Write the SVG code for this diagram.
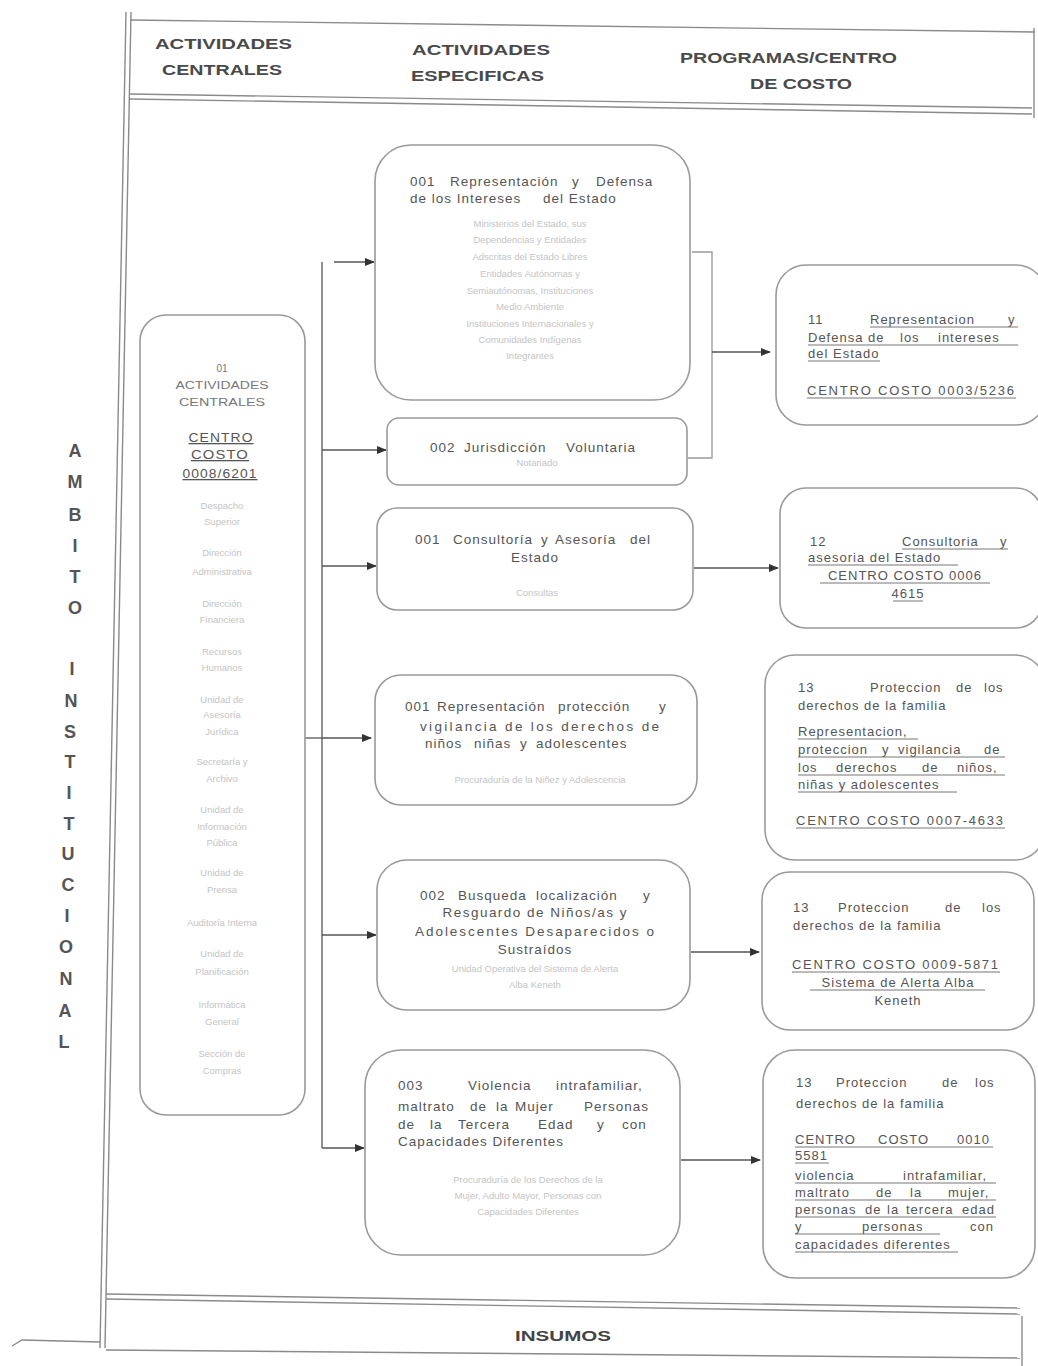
<svg xmlns="http://www.w3.org/2000/svg" width="1038" height="1366" viewBox="0 0 1038 1366">
<style>
.bg{fill:#ffffff}
.frame{fill:none;stroke:#8a8a8a;stroke-width:1.4}
.box{fill:#ffffff;stroke:#9a9a9a;stroke-width:1.6}
.hdr{font-family:"Liberation Sans",Arial,sans-serif;font-weight:bold;font-size:15px;fill:#4a4a4a}
.m{font-family:"Liberation Sans",Arial,sans-serif;font-size:13.5px;letter-spacing:1px;fill:#555}
.r{font-family:"Liberation Sans",Arial,sans-serif;font-size:13px;letter-spacing:1px;fill:#555}
.s{font-family:"Liberation Sans",Arial,sans-serif;font-size:10px;fill:#777}
.f{font-family:"Liberation Sans",Arial,sans-serif;font-size:9.5px;fill:#c4c4c4}
.u{text-decoration:underline}
.ul{stroke:#666;stroke-width:0.9;fill:none}
.side{font-family:"Liberation Sans",Arial,sans-serif;font-weight:bold;font-size:18px;fill:#555}
.ins{font-family:"Liberation Sans",Arial,sans-serif;font-weight:bold;font-size:15px;fill:#444}
.c{text-anchor:middle}
.e{text-anchor:end}
.conn{fill:none;stroke:#555;stroke-width:1.3}
</style>
<defs>
<marker id="ah" markerWidth="10" markerHeight="8" refX="9" refY="4" orient="auto" markerUnits="userSpaceOnUse">
<path d="M0,0 L10,4 L0,8 Z" fill="#333"/>
</marker>
</defs>
<rect class="bg" x="0" y="0" width="1038" height="1366"/>

<g id="frame">
<path class="frame" d="M126,12 L100,1348"/>
<path class="frame" d="M131,12 L105,1348"/>
<path class="frame" d="M130,20 L1035,32"/>
<path class="frame" d="M130,94 L1032,108"/>
<path class="frame" d="M130,99 L1032,114"/>
<path class="frame" d="M1034,28 L1034,118"/>
<path class="frame" d="M106,1294 L1020,1308"/>
<path class="frame" d="M106,1299 L1020,1314"/>
<path class="frame" d="M106,1350 L1020,1358"/>
<path class="frame" d="M1022,1316 L1022,1366"/>
<path class="frame" d="M12,1346 L22,1340 L100,1342"/>
</g>

<g id="header">
<text class="hdr" x="155" y="49" textLength="137" lengthAdjust="spacingAndGlyphs">ACTIVIDADES</text>
<text class="hdr" x="162" y="75" textLength="120" lengthAdjust="spacingAndGlyphs">CENTRALES</text>
<text class="hdr" x="412" y="55" textLength="138" lengthAdjust="spacingAndGlyphs">ACTIVIDADES</text>
<text class="hdr" x="411" y="81" textLength="133" lengthAdjust="spacingAndGlyphs">ESPECIFICAS</text>
<text class="hdr" x="680" y="63" textLength="217" lengthAdjust="spacingAndGlyphs">PROGRAMAS/CENTRO</text>
<text class="hdr" x="750" y="89" textLength="102" lengthAdjust="spacingAndGlyphs">DE COSTO</text>
</g>

<g id="ambito">
<text class="side c" x="75" y="457">A</text>
<text class="side c" x="75" y="488">M</text>
<text class="side c" x="75" y="521">B</text>
<text class="side c" x="75" y="552">I</text>
<text class="side c" x="75" y="583">T</text>
<text class="side c" x="75" y="614">O</text>
<text class="side c" x="72" y="675">I</text>
<text class="side c" x="71" y="707">N</text>
<text class="side c" x="70" y="738">S</text>
<text class="side c" x="70" y="768">T</text>
<text class="side c" x="69" y="799">I</text>
<text class="side c" x="69" y="830">T</text>
<text class="side c" x="68" y="860">U</text>
<text class="side c" x="68" y="891">C</text>
<text class="side c" x="67" y="922">I</text>
<text class="side c" x="66" y="953">O</text>
<text class="side c" x="66" y="985">N</text>
<text class="side c" x="65" y="1017">A</text>
<text class="side c" x="64" y="1048">L</text>
</g>

<g id="connectors">
<path class="conn" d="M322,262 L322,1148"/>
<path class="conn" d="M305,738 L322,738"/>
<path class="conn" d="M334,262 L374,262" marker-end="url(#ah)"/>
<path class="conn" d="M322,450 L386,450" marker-end="url(#ah)"/>
<path class="conn" d="M322,566 L376,566" marker-end="url(#ah)"/>
<path class="conn" d="M322,738 L371,738" marker-end="url(#ah)"/>
<path class="conn" d="M322,935 L376,935" marker-end="url(#ah)"/>
<path class="conn" d="M322,1148 L364,1148" marker-end="url(#ah)"/>
<path class="conn" d="M692,252 L712,252 L712,458 L688,458" style="stroke:#999"/>
<path class="conn" d="M712,352 L770,352" marker-end="url(#ah)"/>
<path class="conn" d="M694,568 L778,568" marker-end="url(#ah)"/>
<path class="conn" d="M691,952 L759,952" marker-end="url(#ah)"/>
<path class="conn" d="M681,1160 L760,1160" marker-end="url(#ah)"/>
</g>

<g id="n01">
<rect class="box" x="140" y="315" width="165" height="800" rx="26"/>
<text class="s c" x="222" y="372">01</text>
<text class="s c" x="222" y="389" textLength="93" lengthAdjust="spacingAndGlyphs">ACTIVIDADES</text>
<text class="s c" x="222" y="406" textLength="86" lengthAdjust="spacingAndGlyphs">CENTRALES</text>
<text class="r c u" x="221" y="442" textLength="65" lengthAdjust="spacingAndGlyphs">CENTRO</text>
<text class="r c u" x="220" y="459" textLength="58" lengthAdjust="spacingAndGlyphs">COSTO</text>
<text class="r c u" x="220" y="478" textLength="75" lengthAdjust="spacingAndGlyphs">0008/6201</text>
<text class="f c" x="222" y="509">Despacho</text>
<text class="f c" x="222" y="525">Superior</text>
<text class="f c" x="222" y="556">Dirección</text>
<text class="f c" x="222" y="575">Administrativa</text>
<text class="f c" x="222" y="607">Dirección</text>
<text class="f c" x="222" y="623">Financiera</text>
<text class="f c" x="222" y="655">Recursos</text>
<text class="f c" x="222" y="671">Humanos</text>
<text class="f c" x="222" y="703">Unidad de</text>
<text class="f c" x="222" y="718">Asesoría</text>
<text class="f c" x="222" y="735">Jurídica</text>
<text class="f c" x="222" y="765">Secretaría y</text>
<text class="f c" x="222" y="782">Archivo</text>
<text class="f c" x="222" y="813">Unidad de</text>
<text class="f c" x="222" y="830">Información</text>
<text class="f c" x="222" y="846">Pública</text>
<text class="f c" x="222" y="876">Unidad de</text>
<text class="f c" x="222" y="893">Prensa</text>
<text class="f c" x="222" y="926">Auditoría Interna</text>
<text class="f c" x="222" y="957">Unidad de</text>
<text class="f c" x="222" y="975">Planificación</text>
<text class="f c" x="222" y="1008">Informática</text>
<text class="f c" x="222" y="1025">General</text>
<text class="f c" x="222" y="1057">Sección de</text>
<text class="f c" x="222" y="1074">Compras</text>
</g>

<g id="a001">
<rect class="box" x="375" y="145" width="315" height="255" rx="36"/>
<text class="m" y="186"><tspan x="410">001</tspan><tspan x="450">Representación</tspan><tspan x="572">y</tspan><tspan x="596">Defensa</tspan></text>
<text class="m" y="203"><tspan x="410">de los Intereses</tspan><tspan x="543">del Estado</tspan></text>
<text class="f c" x="530" y="227">Ministerios del Estado, sus</text>
<text class="f c" x="530" y="243">Dependencias y Entidades</text>
<text class="f c" x="530" y="260">Adscritas del Estado Libres</text>
<text class="f c" x="530" y="277">Entidades Autónomas y</text>
<text class="f c" x="530" y="294">Semiautónomas, Instituciones</text>
<text class="f c" x="530" y="310">Medio Ambiente</text>
<text class="f c" x="530" y="327">Instituciones Internacionales y</text>
<text class="f c" x="530" y="343">Comunidades Indígenas</text>
<text class="f c" x="530" y="359">Integrantes</text>
</g>

<g id="a002">
<rect class="box" x="387" y="418" width="300" height="67" rx="12"/>
<text class="m" y="452"><tspan x="430">002</tspan><tspan x="464">Jurisdicción</tspan><tspan x="566">Voluntaria</tspan></text>
<text class="f c" x="537" y="466">Notariado</text>
</g>

<g id="a003">
<rect class="box" x="377" y="508" width="316" height="102" rx="20"/>
<text class="m" y="544"><tspan x="415">001</tspan><tspan x="453">Consultoría</tspan><tspan x="541">y</tspan><tspan x="555">Asesoría</tspan><tspan x="630">del</tspan></text>
<text class="m c" x="535" y="562">Estado</text>
<text class="f c" x="537" y="596">Consultas</text>
</g>

<g id="a004">
<rect class="box" x="375" y="675" width="322" height="130" rx="26"/>
<text class="m" y="711"><tspan x="405">001</tspan><tspan x="437">Representación</tspan><tspan x="558">protección</tspan><tspan x="659">y</tspan></text>
<text class="m c" x="540" y="731" textLength="240" lengthAdjust="spacing">vigilancia de los derechos de</text>
<text class="m" y="748"><tspan x="425">niños</tspan><tspan x="474">niñas</tspan><tspan x="520">y</tspan><tspan x="536">adolescentes</tspan></text>
<text class="f c" x="540" y="783">Procuraduría de la Niñez y Adolescencia</text>
</g>

<g id="a005">
<rect class="box" x="377" y="860" width="313" height="150" rx="30"/>
<text class="m" y="900"><tspan x="420">002</tspan><tspan x="458">Busqueda</tspan><tspan x="536">localización</tspan><tspan x="643">y</tspan></text>
<text class="m c" x="535" y="917" textLength="185" lengthAdjust="spacing">Resguardo de Niños/as y</text>
<text class="m c" x="535" y="936" textLength="240" lengthAdjust="spacing">Adolescentes Desaparecidos o</text>
<text class="m c" x="535" y="954">Sustraídos</text>
<text class="f c" x="535" y="972">Unidad Operativa del Sistema de Alerta</text>
<text class="f c" x="535" y="988">Alba Keneth</text>
</g>

<g id="a006">
<rect class="box" x="365" y="1050" width="315" height="205" rx="36"/>
<text class="m" y="1090"><tspan x="398">003</tspan><tspan x="468">Violencia</tspan><tspan x="556">intrafamiliar,</tspan></text>
<text class="m" y="1111"><tspan x="398">maltrato</tspan><tspan x="470">de</tspan><tspan x="496">la</tspan><tspan x="515">Mujer</tspan><tspan x="584">Personas</tspan></text>
<text class="m" y="1129"><tspan x="398">de</tspan><tspan x="430">la</tspan><tspan x="458">Tercera</tspan><tspan x="538">Edad</tspan><tspan x="597">y</tspan><tspan x="622">con</tspan></text>
<text class="m" x="398" y="1146">Capacidades Diferentes</text>
<text class="f c" x="528" y="1183">Procuraduría de los Derechos de la</text>
<text class="f c" x="528" y="1199">Mujer, Adulto Mayor, Personas con</text>
<text class="f c" x="528" y="1215">Capacidades Diferentes</text>
</g>

<g id="p11">
<rect class="box" x="776" y="265" width="270" height="160" rx="30"/>
<text class="r" y="324"><tspan x="808">11</tspan><tspan x="870">Representacion</tspan><tspan x="1008">y</tspan></text>
<text class="r" y="342"><tspan x="808">Defensa</tspan><tspan x="868">de</tspan><tspan x="900">los</tspan><tspan x="938">intereses</tspan></text>
<text class="r" x="808" y="358">del Estado</text>
<text class="r" x="807" y="395" textLength="208" lengthAdjust="spacing">CENTRO COSTO 0003/5236</text>
<path class="ul" d="M870,327 H1018 M808,345 H1018 M808,361 H880 M807,398 H1016"/>
</g>

<g id="p12">
<rect class="box" x="780" y="488" width="262" height="140" rx="26"/>
<text class="r" y="546"><tspan x="810">12</tspan><tspan x="902">Consultoria</tspan><tspan x="1000">y</tspan></text>
<text class="r" x="808" y="562">asesoria del Estado</text>
<text class="r c" x="905" y="580">CENTRO COSTO 0006</text>
<text class="r c" x="908" y="598">4615</text>
<path class="ul" d="M902,549 H1008 M808,565 H958 M820,583 H990 M893,601 H923"/>
</g>

<g id="p13a">
<rect class="box" x="765" y="655" width="280" height="205" rx="30"/>
<text class="r" y="692"><tspan x="798">13</tspan><tspan x="870">Proteccion</tspan><tspan x="956">de</tspan><tspan x="984">los</tspan></text>
<text class="r" x="798" y="710">derechos de la familia</text>
<text class="r" x="798" y="736">Representacion,</text>
<text class="r" y="754"><tspan x="798">proteccion</tspan><tspan x="882">y</tspan><tspan x="898">vigilancia</tspan><tspan x="984">de</tspan></text>
<text class="r" y="772"><tspan x="798">los</tspan><tspan x="836">derechos</tspan><tspan x="922">de</tspan><tspan x="957">niños,</tspan></text>
<text class="r" x="798" y="789">niñas y adolescentes</text>
<text class="r" x="796" y="825" textLength="208" lengthAdjust="spacing">CENTRO COSTO 0007-4633</text>
<path class="ul" d="M798,739 H918 M798,757 H1005 M798,775 H1005 M798,792 H957 M796,828 H1005"/>
</g>

<g id="p13b">
<rect class="box" x="762" y="872" width="272" height="158" rx="28"/>
<text class="r" y="912"><tspan x="793">13</tspan><tspan x="838">Proteccion</tspan><tspan x="945">de</tspan><tspan x="982">los</tspan></text>
<text class="r" x="793" y="930">derechos de la familia</text>
<text class="r" x="792" y="969" textLength="207" lengthAdjust="spacing">CENTRO COSTO 0009-5871</text>
<text class="r c" x="898" y="987">Sistema de Alerta Alba</text>
<text class="r c" x="898" y="1005">Keneth</text>
<path class="ul" d="M792,972 H1000 M810,990 H985"/>
</g>

<g id="p13c">
<rect class="box" x="763" y="1050" width="272" height="228" rx="32"/>
<text class="r" y="1087"><tspan x="796">13</tspan><tspan x="836">Proteccion</tspan><tspan x="942">de</tspan><tspan x="975">los</tspan></text>
<text class="r" x="796" y="1108">derechos de la familia</text>
<text class="r" y="1144"><tspan x="795">CENTRO</tspan><tspan x="878">COSTO</tspan><tspan x="957">0010</tspan></text>
<text class="r" x="795" y="1160">5581</text>
<text class="r" y="1180"><tspan x="795">violencia</tspan><tspan x="903">intrafamiliar,</tspan></text>
<text class="r" y="1197"><tspan x="795">maltrato</tspan><tspan x="876">de</tspan><tspan x="910">la</tspan><tspan x="948">mujer,</tspan></text>
<text class="r" y="1214"><tspan x="795">personas</tspan><tspan x="865">de</tspan><tspan x="887">la</tspan><tspan x="906">tercera</tspan><tspan x="962">edad</tspan></text>
<text class="r" y="1231"><tspan x="795">y</tspan><tspan x="862">personas</tspan><tspan x="970">con</tspan></text>
<text class="r" x="795" y="1249">capacidades diferentes</text>
<path class="ul" d="M795,1147 H993 M795,1163 H829 M795,1183 H996 M795,1200 H996 M795,1217 H996 M795,1234 H940 M795,1252 H958"/>
</g>

<g id="insumos">
<text class="ins c" x="563" y="1341" textLength="96" lengthAdjust="spacingAndGlyphs">INSUMOS</text>
</g>
</svg>
